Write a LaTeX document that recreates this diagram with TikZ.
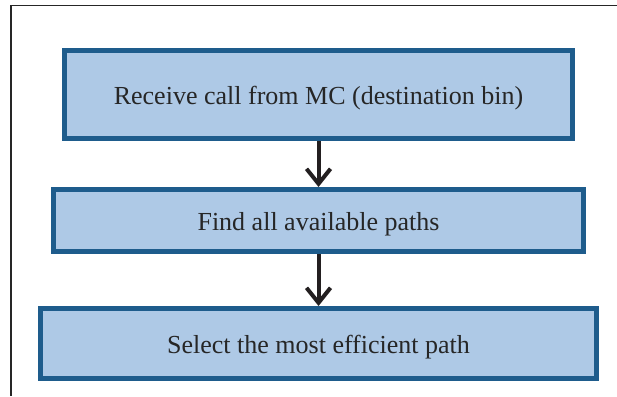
\documentclass[tikz,border=0pt]{standalone}
\usepackage{fontspec}
\setmainfont{Liberation Serif}
\usetikzlibrary{arrows.meta}
\definecolor{boxfill}{RGB}{174,201,230}
\definecolor{boxline}{RGB}{30,92,140}
\definecolor{arrowc}{RGB}{35,31,32}
\tikzset{
  stepbox/.style={draw=boxline, fill=boxfill, line width=5pt, inner sep=0pt,
    text height=22pt, text depth=3pt,
    font=\fontsize{26}{30}\selectfont, text=black!85},
  flowarrow/.style={draw=arrowc, line width=4pt, -{Straight Barb[length=15pt, width=24pt, line width=4pt]}}
}
\begin{document}
\begin{tikzpicture}[x=1pt, y=-1pt]
\useasboundingbox (0,0) rectangle (617,396);
\draw[line width=1.5pt, black!85] (11,396) -- (11,5.5) -- (617,5.5);
\node[stepbox, minimum width=508pt, minimum height=88pt] (b1) at (318.5,94.5) {Receive call from MC (destination bin)};
\node[stepbox, minimum width=530pt, minimum height=62pt] (b2) at (318.5,220.5) {Find all available paths};
\node[stepbox, minimum width=556pt, minimum height=70pt] (b3) at (318.5,343.5) {Select the most efficient path};
\draw[flowarrow] (b1.south) -- (b2.north);
\draw[flowarrow] (b2.south) -- (b3.north);
\end{tikzpicture}
\end{document}
